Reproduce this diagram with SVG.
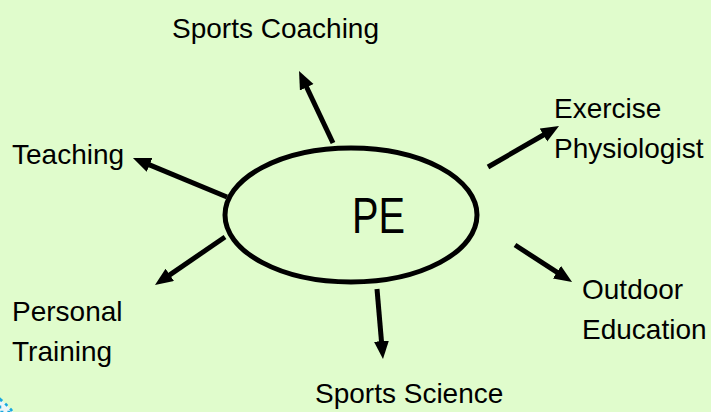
<svg xmlns="http://www.w3.org/2000/svg" width="711" height="412" viewBox="0 0 711 412">
<style>
.lbl{font-family:"Liberation Sans",Arial,sans-serif;font-size:28px;fill:#000}
.conn line{stroke:#000;stroke-width:5;marker-end:url(#ah)}
</style>
<defs>
<marker id="ah" markerUnits="userSpaceOnUse" markerWidth="20" markerHeight="16" refX="4" refY="7.5" orient="auto" viewBox="0 0 20 16">
<path d="M0,0 L18,7.5 L0,15 z" fill="#000"/>
</marker>
</defs>
<rect width="711" height="412" fill="#e0fccc"/>
<path d="M0,399 Q7,405 13,412 L0,412 z" fill="#eef6f8" stroke="#18a8e0" stroke-width="2.5" stroke-dasharray="3,4"/>
<g id="connectors" class="conn">
<line x1="333" y1="143" x2="305" y2="83.7"/>
<line x1="227" y1="197" x2="145.9" y2="163.4"/>
<line x1="225" y1="237" x2="166.5" y2="277.1"/>
<line x1="488" y1="167" x2="546.9" y2="133"/>
<line x1="515" y1="245" x2="560.3" y2="274.4"/>
<line x1="377" y1="289" x2="381.8" y2="345.1"/>
</g>
<g id="pe">
<ellipse cx="351" cy="215" rx="126" ry="67" fill="#e0fccc" stroke="#000" stroke-width="5"/>
<text x="352" y="233" textLength="53" lengthAdjust="spacingAndGlyphs" style="font-family:'Liberation Sans',Arial,sans-serif;font-size:50px">PE</text>
</g>
<g id="sports-coaching"><text class="lbl" x="172" y="38">Sports Coaching</text></g>
<g id="exercise-physiologist"><text class="lbl" x="554" y="118">Exercise</text><text class="lbl" x="554" y="158">Physiologist</text></g>
<g id="teaching"><text class="lbl" x="12" y="164">Teaching</text></g>
<g id="personal-training"><text class="lbl" x="12" y="321">Personal</text><text class="lbl" x="12" y="361">Training</text></g>
<g id="outdoor-education"><text class="lbl" x="582" y="299">Outdoor</text><text class="lbl" x="582" y="339">Education</text></g>
<g id="sports-science"><text class="lbl" x="315" y="403">Sports Science</text></g>
</svg>
